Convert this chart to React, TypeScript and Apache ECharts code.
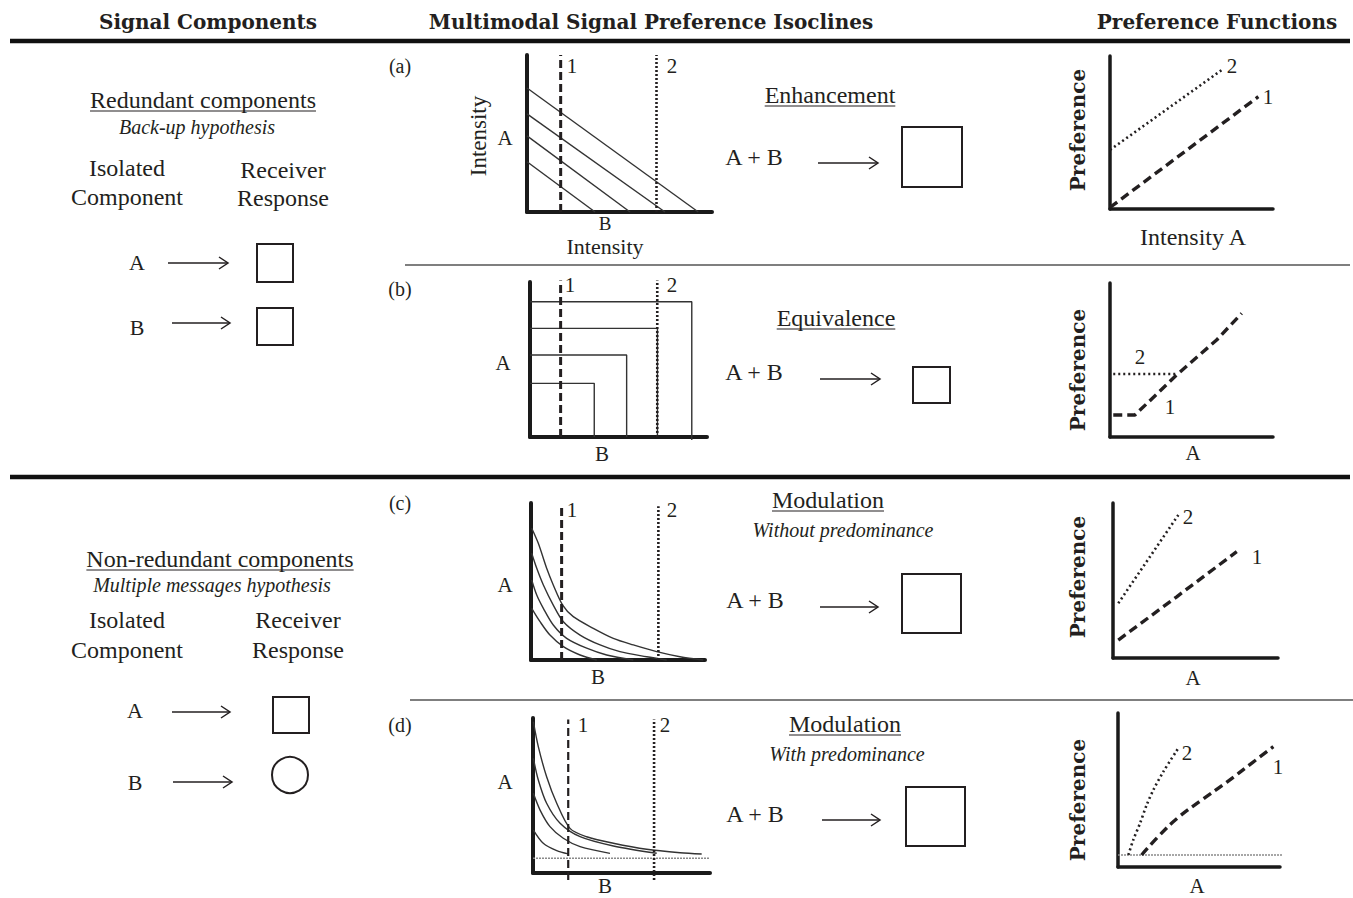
import React, { useEffect, useRef } from 'react';
import * as echarts from 'echarts';

// ---------- Data (x = component B / A intensity, y = A intensity / preference), 0..10 scales ----------
// (a) Enhancement isoclines
const enhIsoclines = [
  [[0, 7.9], [9.26, 0]],
  [[0, 6.25], [7.46, 0]],
  [[0, 4.85], [5.57, 0]],
  [[0, 3.2], [3.68, 0]],
];
const enhThreshold1 = [[1.82, 0], [1.82, 10]];
const enhThreshold2 = [[7.0, 0], [7.0, 10]];

// (b) Equivalence isoclines
const eqIsoclines = [
  [[0, 8.73], [9.14, 8.73], [9.14, -0.2]],
  [[0, 7.01], [7.2, 7.01], [7.2, 0]],
  [[0, 5.29], [5.46, 5.29], [5.46, 0]],
  [[0, 3.46], [3.63, 3.46], [3.63, 0]],
];
const eqThreshold1 = [[1.73, 0], [1.73, 10.1]];
const eqThreshold2 = [[7.19, 0], [7.19, 10.1]];

// (c) Modulation without predominance isoclines
const modIsoclines = [
  [[0.04, 8.39], [0.42, 7.43], [0.9, 5.84], [1.28, 4.78], [1.82, 3.5], [2.43, 2.76], [3.58, 2.02], [4.73, 1.38], [5.88, 0.96], [7.22, 0.53], [8.56, 0.21], [9.9, 0]],
  [[0.04, 6.8], [0.33, 5.84], [0.71, 4.78], [1.28, 3.5], [1.86, 2.44], [2.82, 1.59], [3.97, 0.96], [5.11, 0.53], [6.65, 0.21], [7.8, 0]],
  [[0.04, 5.1], [0.33, 4.14], [0.71, 3.29], [1.28, 2.23], [2.05, 1.38], [3.2, 0.75], [4.35, 0.32], [5.88, 0]],
  [[0.04, 3.29], [0.52, 2.44], [1.09, 1.59], [1.86, 0.85], [2.82, 0.32], [3.78, 0]],
];
const modThreshold1 = [[1.76, 0], [1.76, 9.8]];
const modThreshold2 = [[7.32, 0], [7.32, 9.8]];

// (d) Modulation with predominance isoclines
const predIsoclines = [
  [[0.02, 9.76], [0.3, 8.15], [0.77, 6.21], [1.34, 4.5], [2.09, 2.88], [3.03, 2.34], [4.54, 1.92], [6.42, 1.53], [8.31, 1.31], [9.53, 1.23]],
  [[0.02, 7.4], [0.3, 6.0], [0.77, 4.5], [1.53, 3.21], [2.66, 2.34], [4.54, 1.74], [6.99, 1.27]],
  [[0.02, 5.14], [0.4, 4.06], [0.96, 2.99], [1.71, 2.24], [2.66, 1.7], [4.35, 1.27]],
  [[0.02, 2.77], [0.58, 1.92], [1.34, 1.44], [1.99, 1.23]],
];
const predThreshold1 = [[1.99, -0.45], [1.99, 9.9]];
const predThreshold2 = [[6.84, -0.45], [6.84, 9.9]];
const predBaseline = [[0, 0.95], [10, 0.95]];

// Preference functions
const enhPref1 = [[0, 0.1], [9.1, 7.34]];
const enhPref2 = [[0, 3.86], [6.85, 9.08]];
const eqPref1 = [[0.2, 1.43], [1.53, 1.43], [4.09, 4.03], [6.54, 6.3], [8.08, 8.03]];
const eqPref2 = [[0.2, 4.09], [4.09, 4.09]];
const modPref1 = [[0.32, 1.16], [3.86, 3.95], [7.5, 6.86]];
const modPref2 = [[0.32, 3.53], [3.96, 9.23]];
const predPref1 = [[1.46, 0.78], [2.6, 2.1], [3.7, 3.2], [5.1, 4.3], [6.7, 5.5], [8.2, 6.7], [9.59, 7.81]];
const predPref2 = [[0.64, 0.78], [0.94, 1.75], [1.36, 2.84], [1.77, 4.03], [2.18, 5.0], [2.8, 6.19], [3.72, 7.71]];
const predPrefBaseline = [[0, 0.78], [10.8, 0.78]];

// ---------- Styles / layout ----------
const SERIF = '"Liberation Serif", "Times New Roman", serif';
const HEAD = '"DejaVu Serif", serif';
const INK = '#231f20';

const gridRects = [
  [527, 55, 185, 157],
  [530, 282, 177, 155],
  [531, 503, 174, 157],
  [533, 718, 177, 155],
  [1110, 56, 163, 153],
  [1110, 283, 163, 154],
  [1113, 503, 165, 155],
  [1118, 713, 162, 154],
];

function measure(text: string, font: string): number {
  const ctx = document.createElement('canvas').getContext('2d');
  if (!ctx) return text.length * 11;
  ctx.font = font;
  return ctx.measureText(text).width;
}

function fontOf(size: number, italic = false, bold = false, family = SERIF) {
  return `${italic ? 'italic ' : ''}${bold ? 'bold ' : ''}${size}px ${family}`;
}

function txt(text: string, x: number, y: number, size = 24, o: any = {}) {
  return {
    type: 'text',
    x,
    y,
    rotation: o.rot || 0,
    silent: true,
    style: {
      text,
      x: 0,
      y: 0,
      font: fontOf(size, o.italic, o.bold, o.family || SERIF),
      fill: INK,
      textAlign: 'center',
      textVerticalAlign: 'middle',
      align: 'center',
      verticalAlign: 'middle',
    },
  };
}

function underlined(text: string, x: number, y: number, size = 24) {
  const w = measure(text, fontOf(size));
  return [
    txt(text, x, y, size),
    {
      type: 'line',
      silent: true,
      shape: { x1: x - w / 2, y1: y + 11, x2: x + w / 2, y2: y + 11 },
      style: { stroke: INK, lineWidth: 1.2 },
    },
  ];
}

function arrow(x1: number, x2: number, y: number) {
  return [
    { type: 'line', silent: true, shape: { x1, y1: y, x2, y2: y }, style: { stroke: INK, lineWidth: 1.5 } },
    {
      type: 'polyline',
      silent: true,
      shape: { points: [[x2 - 9, y - 6], [x2, y], [x2 - 9, y + 6]] },
      style: { stroke: INK, lineWidth: 1.5, fill: null },
    },
  ];
}

function box(x: number, y: number, w: number, h: number) {
  return { type: 'rect', silent: true, shape: { x, y, width: w, height: h }, style: { fill: '#fff', stroke: INK, lineWidth: 2 } };
}

function hline(x1: number, x2: number, y: number, w: number, c: string) {
  return { type: 'line', silent: true, shape: { x1, y1: y, x2, y2: y }, style: { stroke: c, lineWidth: w } };
}

function ser(grid: number, data: number[][], style: any, smooth: any = false) {
  return {
    type: 'line',
    xAxisIndex: grid,
    yAxisIndex: grid,
    data,
    symbol: 'none',
    silent: true,
    clip: false,
    smooth,
    lineStyle: style,
  };
}

const ISO = { color: '#333', width: 1.4, type: 'solid' };
const DASH_ISO = { color: INK, width: 3, type: [8, 4] };
const DOT_ISO = { color: INK, width: 2.6, type: [2, 2] };
const DASH_PREF = { color: INK, width: 3.4, type: [9, 5] };
const DOT_PREF = { color: INK, width: 2.6, type: [2, 3] };
const GRAY = { color: '#8a8a8a', width: 1.6, type: [2, 1] };

export default function App() {
  const ref = useRef<HTMLDivElement>(null);
  useEffect(() => {
    if (!ref.current) return;
    const chart = echarts.init(ref.current, undefined, { renderer: 'svg' });

    const series: any[] = [];
    enhIsoclines.forEach((d) => series.push(ser(0, d, ISO)));
    series.push(ser(0, enhThreshold1, DASH_ISO), ser(0, enhThreshold2, DOT_ISO));
    eqIsoclines.forEach((d) => series.push(ser(1, d, ISO)));
    series.push(ser(1, eqThreshold1, DASH_ISO), ser(1, eqThreshold2, DOT_ISO));
    modIsoclines.forEach((d) => series.push(ser(2, d, ISO, 0.3)));
    series.push(ser(2, modThreshold1, DASH_ISO), ser(2, modThreshold2, DOT_ISO));
    series.push(ser(3, predBaseline, GRAY));
    predIsoclines.forEach((d) => series.push(ser(3, d, ISO, 0.3)));
    series.push(ser(3, predThreshold1, { ...DASH_ISO, width: 2.2 }), ser(3, predThreshold2, DOT_ISO));

    series.push(ser(4, enhPref2, DOT_PREF), ser(4, enhPref1, DASH_PREF));
    series.push(ser(5, eqPref2, DOT_PREF), ser(5, eqPref1, DASH_PREF));
    series.push(ser(6, modPref2, DOT_PREF), ser(6, modPref1, DASH_PREF));
    series.push(ser(7, predPrefBaseline, GRAY), ser(7, predPref2, DOT_PREF, 0.3), ser(7, predPref1, DASH_PREF, 0.5));

    const axisCommon = (i: number) => ({
      type: 'value',
      gridIndex: i,
      min: 0,
      max: 10,
      axisLine: { show: true, onZero: false, lineStyle: { color: '#1a1a1a', width: i < 4 ? 4 : 3.5 } },
      axisTick: { show: false },
      axisLabel: { show: false },
      splitLine: { show: false },
    });

    const g: any[] = [];
    // headers and separators
    g.push(txt('Signal Components', 208, 22, 20, { bold: true, family: HEAD }));
    g.push(txt('Multimodal Signal Preference Isoclines', 651, 22, 20, { bold: true, family: HEAD }));
    g.push(txt('Preference Functions', 1217, 22, 20, { bold: true, family: HEAD }));
    g.push(hline(10, 1350, 41, 4.5, '#111'));
    g.push(hline(405, 1350, 265, 1.5, '#555'));
    g.push(hline(10, 1350, 477, 4.5, '#111'));
    g.push(hline(410, 1353, 700, 1.5, '#555'));

    // left column - redundant
    g.push(...underlined('Redundant components', 203, 100));
    g.push(txt('Back-up hypothesis', 197, 127, 20, { italic: true }));
    g.push(txt('Isolated', 127, 168), txt('Component', 127, 197));
    g.push(txt('Receiver', 283, 170), txt('Response', 283, 198));
    g.push(txt('A', 137, 262, 22), ...arrow(168, 228, 263), box(257, 244, 36, 38));
    g.push(txt('B', 137, 327, 22), ...arrow(172, 230, 323), box(257, 308, 36, 37));
    // left column - non-redundant
    g.push(...underlined('Non-redundant components', 220, 559));
    g.push(txt('Multiple messages hypothesis', 212, 585, 20, { italic: true }));
    g.push(txt('Isolated', 127, 620), txt('Component', 127, 650));
    g.push(txt('Receiver', 298, 620), txt('Response', 298, 650));
    g.push(txt('A', 135, 710, 22), ...arrow(172, 230, 712), box(273, 697, 36, 36));
    g.push(txt('B', 135, 782, 22), ...arrow(173, 232, 782));
    g.push({ type: 'circle', silent: true, shape: { cx: 290, cy: 775, r: 18 }, style: { fill: '#fff', stroke: INK, lineWidth: 2 } });

    // panel letters
    g.push(txt('(a)', 400, 66, 20), txt('(b)', 400, 289, 20), txt('(c)', 400, 503, 20), txt('(d)', 400, 725, 20));

    // isocline labels
    g.push(txt('A', 505, 138, 21), txt('Intensity', 478, 136, 23, { rot: Math.PI / 2 }));
    g.push(txt('B', 605, 223, 19), txt('Intensity', 605, 246, 22));
    g.push(txt('1', 572, 66, 21), txt('2', 672, 66, 21));
    g.push(txt('A', 503, 363, 21), txt('B', 602, 454, 21), txt('1', 570, 285, 21), txt('2', 672, 285, 21));
    g.push(txt('A', 505, 585, 21), txt('B', 598, 677, 21), txt('1', 572, 510, 21), txt('2', 672, 510, 21));
    g.push(txt('A', 505, 782, 21), txt('B', 605, 886, 21), txt('1', 583, 725, 21), txt('2', 665, 725, 21));

    // middle descriptions
    g.push(...underlined('Enhancement', 830, 95));
    g.push(txt('A + B', 754, 157), ...arrow(818, 878, 163), box(902, 127, 60, 60));
    g.push(...underlined('Equivalence', 836, 318));
    g.push(txt('A + B', 754, 372), ...arrow(820, 880, 379), box(913, 367, 37, 36));
    g.push(...underlined('Modulation', 828, 500));
    g.push(txt('Without predominance', 843, 530, 20, { italic: true }));
    g.push(txt('A + B', 755, 600), ...arrow(820, 878, 607), box(902, 574, 59, 59));
    g.push(...underlined('Modulation', 845, 724));
    g.push(txt('With predominance', 847, 754, 20, { italic: true }));
    g.push(txt('A + B', 755, 814), ...arrow(822, 880, 820), box(906, 787, 59, 59));

    // preference labels
    const pref = (y: number) => txt('Preference', 1078, y, 20, { bold: true, family: HEAD, rot: Math.PI / 2 });
    g.push(pref(130), txt('Intensity A', 1193, 237, 24), txt('2', 1232, 66, 21), txt('1', 1268, 97, 21));
    g.push(pref(370), txt('A', 1193, 453, 21), txt('2', 1140, 357, 21), txt('1', 1170, 407, 21));
    g.push(pref(577), txt('A', 1193, 678, 21), txt('2', 1188, 517, 21), txt('1', 1257, 557, 21));
    g.push(pref(800), txt('A', 1197, 886, 21), txt('2', 1187, 753, 21), txt('1', 1278, 767, 21));

    chart.setOption({
      animation: false,
      backgroundColor: '#fff',
      grid: gridRects.map((r) => ({ left: r[0], top: r[1], width: r[2], height: r[3], containLabel: false })),
      xAxis: gridRects.map((_, i) => axisCommon(i)),
      yAxis: gridRects.map((_, i) => axisCommon(i)),
      series,
      graphic: g,
    });
    return () => chart.dispose();
  }, []);
  return <div ref={ref} style={{ position: 'absolute', left: 0, top: 0, width: 1353, height: 898 }} />;
}
